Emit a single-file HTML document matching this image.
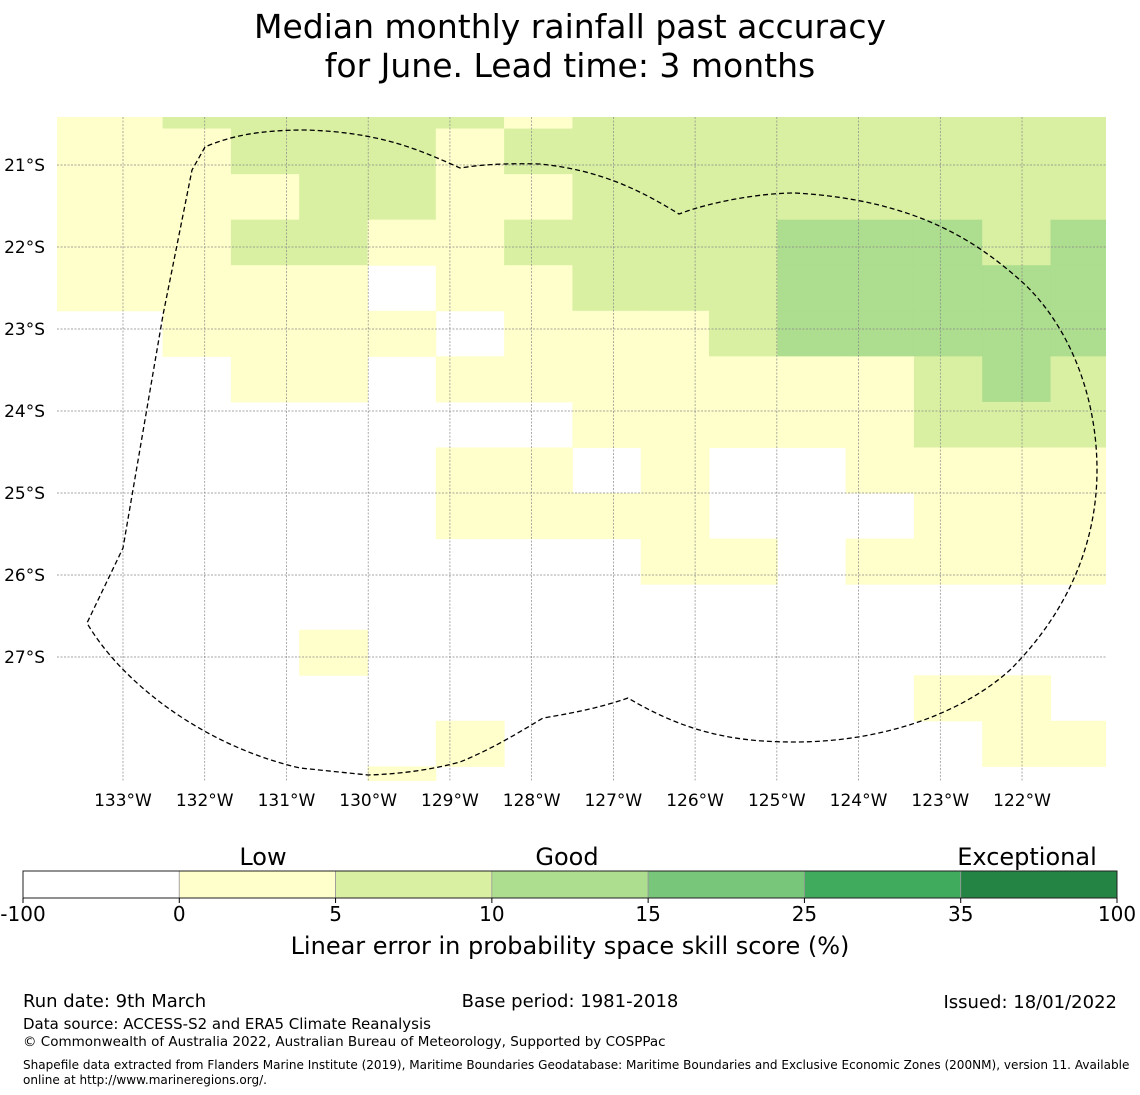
<!DOCTYPE html>
<html><head><meta charset="utf-8"><style>
body{margin:0;background:#fff;}
svg{display:block;font-family:"DejaVu Sans","Liberation Sans",sans-serif;}
</style></head><body>
<svg id="chart" width="1140" height="1095" viewBox="0 0 1140 1095">
<text x="570" y="38" font-size="33" text-anchor="middle">Median monthly rainfall past accuracy</text>
<text x="570" y="77" font-size="33" text-anchor="middle">for June. Lead time: 3 months</text>
<defs><clipPath id="mapclip"><rect x="57" y="117" width="1049" height="664"/></clipPath></defs>
<g id="cells" clip-path="url(#mapclip)"></g>
<g id="grid" clip-path="url(#mapclip)"></g>
<g id="xt"></g>
<g id="yt"></g>
<path clip-path="url(#mapclip)" d="M205,147 L192,170 L163,315 L123,548 L87,623 C120,680 200,745 300,768 L368,775 C400,774 430,770 460,762 C490,750 520,732 543,718 C580,712 605,706 628,698 C690,735 740,742 795,742 C880,742 960,715 1010,670 C1070,610 1097,540 1097,470 C1097,390 1065,320 1020,280 C980,245 920,200 795,193 C760,193 710,202 679,214 C640,190 600,170 540,164 C500,163 480,165 460,168 C420,150 380,132 305,130 C260,130 230,136 205,147 Z" fill="none" stroke="#000" stroke-width="1.3" stroke-dasharray="5,3"/>
<g id="cbar"></g>
<text x="263" y="865" font-size="24" text-anchor="middle">Low</text>
<text x="567" y="865" font-size="24" text-anchor="middle">Good</text>
<text x="1027" y="865" font-size="24" text-anchor="middle">Exceptional</text>
<text x="570" y="954" font-size="24" text-anchor="middle">Linear error in probability space skill score (%)</text>
<text x="23" y="1007" font-size="18">Run date: 9th March</text>
<text x="570" y="1007" font-size="18" text-anchor="middle">Base period: 1981-2018</text>
<text x="1117" y="1008" font-size="18" text-anchor="end">Issued: 18/01/2022</text>
<text x="23" y="1029" font-size="15">Data source: ACCESS-S2 and ERA5 Climate Reanalysis</text>
<text x="23" y="1046" font-size="13.5">© Commonwealth of Australia 2022, Australian Bureau of Meteorology, Supported by COSPPac</text>
<text x="23" y="1069" font-size="12.05">Shapefile data extracted from Flanders Marine Institute (2019), Maritime Boundaries Geodatabase: Maritime Boundaries and Exclusive Economic Zones (200NM), version 11. Available</text>
<text x="23" y="1084" font-size="12.05">online at http://www.marineregions.org/.</text>
</svg>
<script>
// data
const gridRows = [
"YYGGGGGYGGGGGGGG",
"YYYGGGYGGGGGGGGG",
"YYYYGGYYGGGGGGGG",
"YYYGGYYGGGGMMMGM",
"YYYYYWYYGGGMMMMM",
"WWYYYYWYYYGMMMMM",
"WWWYYWYYYYYYYGMG",
"WWWWWWWWYYYYYGGG",
"WWWWWWYYWYWWYYYY",
"WWWWWWYYYYWWWYYY",
"WWWWWWWWWYYWYYYY",
"WWWWWWWWWWWWWWWW",
"WWWWYWWWWWWWWWWW",
"WWWWWWWWWWWWWYYW",
"WWWWWWYWWWWWWWYY",
"WWWWWYWWWWWWWWWW"];
const lonTicks = [-133,-132,-131,-130,-129,-128,-127,-126,-125,-124,-123,-122];
const latTicks = [-21,-22,-23,-24,-25,-26,-27];
const cbTicks = ["-100","0","5","10","15","25","35","100"];
const cbColors = ["#ffffff","#ffffcc","#d9f0a3","#addd8e","#78c679","#41ab5d","#238443"];
const lon0 = -134.187, dLon = 0.8357, lat0 = -20.0, dLat = 0.5556;
const catColor = {W:"#ffffff",Y:"#ffffcc",G:"#d9f0a3",M:"#addd8e"};
// axes
const X = lon => 123 + (lon + 133) * 81.73;
const Y = lat => 165 + (-21 - lat) * 82;
const NS = "http://www.w3.org/2000/svg";
function mk(tag, attrs, parent){const e=document.createElementNS(NS,tag);for(const k in attrs)e.setAttribute(k,attrs[k]);parent.appendChild(e);return e;}
const cells = document.getElementById('cells');
gridRows.forEach((row, r) => {
  [...row].forEach((c, i) => {
    if (c === 'W') return;
    const x1 = X(lon0 + i*dLon), x2 = X(lon0 + (i+1)*dLon);
    const y1 = Y(lat0 - r*dLat), y2 = Y(lat0 - (r+1)*dLat);
    const el = mk('rect',{x:x1,y:y1,width:x2-x1+0.5,height:y2-y1+0.5,fill:catColor[c]},cells);
    
    
  });
});
const grid = document.getElementById('grid');
const xt = document.getElementById('xt');
lonTicks.forEach(l => {
  const x = X(l);
  const ln = mk('line',{x1:x,x2:x,y1:117,y2:781,stroke:"#888",'stroke-width':0.7,'stroke-dasharray':"2,1.5"},grid);
  
  
  const t = mk('text',{x:x,y:806,'font-size':17,'text-anchor':'middle'},xt);
  t.textContent = Math.abs(l) + "°W";
  
  
});
const yt = document.getElementById('yt');
latTicks.forEach(l => {
  const y = Y(l);
  const ln = mk('line',{x1:57,x2:1106,y1:y,y2:y,stroke:"#888",'stroke-width':0.7,'stroke-dasharray':"2,1.5"},grid);
  
  
  const t = mk('text',{x:45,y:y+6,'font-size':17,'text-anchor':'end'},yt);
  t.textContent = Math.abs(l) + "°S";
  
  
});
const cb = document.getElementById('cbar');
const cbX = 23, cbW = 1094, seg = cbW / cbColors.length;
cbColors.forEach((c, i) => {
  const r = mk('rect',{x:cbX+i*seg,y:871,width:seg,height:27,fill:c,stroke:"#999",'stroke-width':0.8},cb);
  
  
});
mk('rect',{x:cbX,y:871,width:cbW,height:27,fill:"none",stroke:"#222",'stroke-width':1},cb);
cbTicks.forEach((t, i) => {
  const x = cbX + i*seg;
  mk('line',{x1:x,x2:x,y1:898,y2:903,stroke:"#000"},cb);
  const tx = mk('text',{x:x,y:921,'font-size':20,'text-anchor':'middle'},cb);
  tx.textContent = t;
  
  
});
</script>
</body></html>
